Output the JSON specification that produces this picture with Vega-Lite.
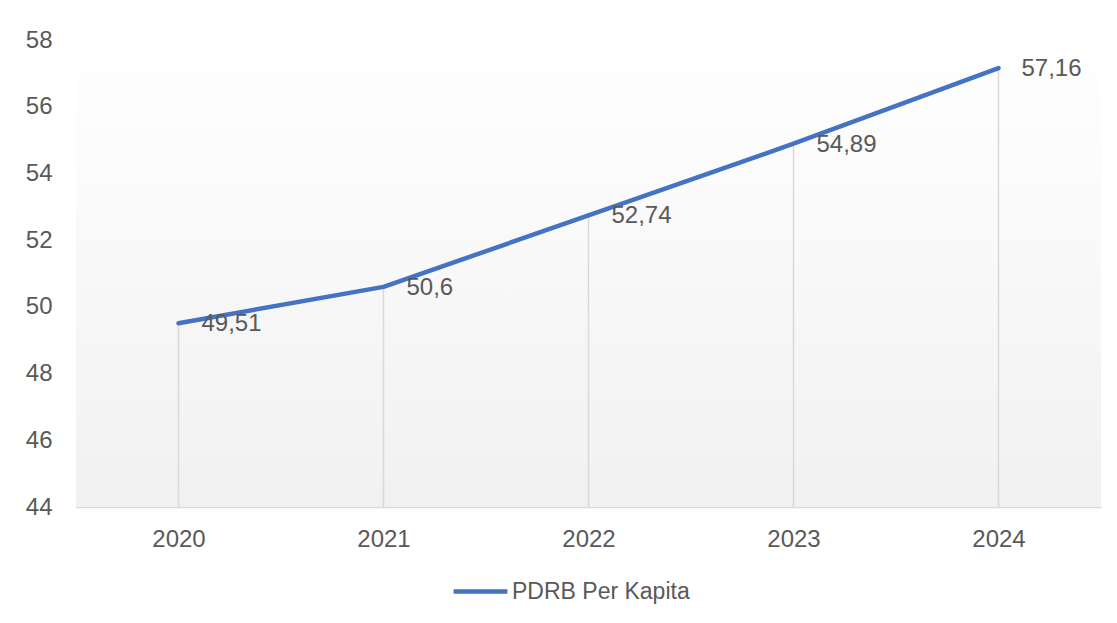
{
  "$schema": "https://vega.github.io/schema/vega-lite/v6.json",
  "width": 1025,
  "height": 467,
  "autosize": {"type": "none"},
  "padding": {"left": 76, "top": 40, "right": 16, "bottom": 116},
  "background": "white",
  "config": {
    "view": {"stroke": null},
    "font": "Liberation Sans",
    "text": {"font": "Liberation Sans"}
  },
  "datasets": {
    "main": [
      {"year": "2020", "value": 49.51, "label": "49,51"},
      {"year": "2021", "value": 50.6, "label": "50,6"},
      {"year": "2022", "value": 52.74, "label": "52,74"},
      {"year": "2023", "value": 54.89, "label": "54,89"},
      {"year": "2024", "value": 57.16, "label": "57,16"}
    ],
    "bg": [{"lo": 44, "hi": 58}]
  },
  "layer": [
    {
      "data": {"name": "bg"},
      "mark": {
        "type": "rect",
        "color": {
          "gradient": "linear",
          "x1": 0, "y1": 0, "x2": 0, "y2": 1,
          "stops": [
            {"offset": 0, "color": "#ffffff"},
            {"offset": 1, "color": "#f1f1f1"}
          ]
        }
      },
      "encoding": {
        "y": {"field": "lo", "type": "quantitative", "scale": {"domain": [44, 58], "nice": false, "zero": false},
          "axis": {"values": [44, 46, 48, 50, 52, 54, 56, 58], "title": null, "domain": false, "ticks": false, "grid": false,
            "labelFontSize": 24, "labelColor": "#595959", "labelPadding": 24, "labelFont": "Liberation Sans"}},
        "y2": {"field": "hi"}
      }
    },
    {
      "data": {"name": "main"},
      "mark": {"type": "rule", "color": "#d9d9d9", "strokeWidth": 1.5},
      "encoding": {
        "x": {"field": "year", "type": "ordinal", "scale": {"type": "point", "padding": 0.5},
          "axis": {"title": null, "labelAngle": 0, "ticks": false, "grid": false, "domainColor": "#d9d9d9", "domainWidth": 1.5,
            "labelFontSize": 24, "labelColor": "#595959", "labelPadding": 20, "labelFont": "Liberation Sans"}},
        "y": {"field": "value", "type": "quantitative"},
        "y2": {"datum": 44}
      }
    },
    {
      "data": {"name": "main"},
      "mark": {"type": "line", "strokeWidth": 4.5, "strokeCap": "round", "strokeJoin": "round"},
      "encoding": {
        "x": {"field": "year", "type": "ordinal"},
        "y": {"field": "value", "type": "quantitative"},
        "color": {"datum": "PDRB Per Kapita", "scale": {"range": ["#4472C4"]},
          "legend": {"title": null, "orient": "none", "legendX": 375, "legendY": 522, "symbolType": "stroke",
            "symbolSize": 2900, "symbolStrokeWidth": 4.5, "labelFontSize": 23, "labelColor": "#595959",
            "labelFont": "Liberation Sans", "labelOffset": 2, "labelLimit": 500}}
      }
    },
    {
      "data": {"name": "main"},
      "mark": {"type": "text", "align": "left", "baseline": "middle", "dx": 23, "dy": 1, "fontSize": 24, "color": "#595959", "font": "Liberation Sans"},
      "encoding": {
        "x": {"field": "year", "type": "ordinal"},
        "y": {"field": "value", "type": "quantitative"},
        "text": {"field": "label"}
      }
    }
  ]
}
